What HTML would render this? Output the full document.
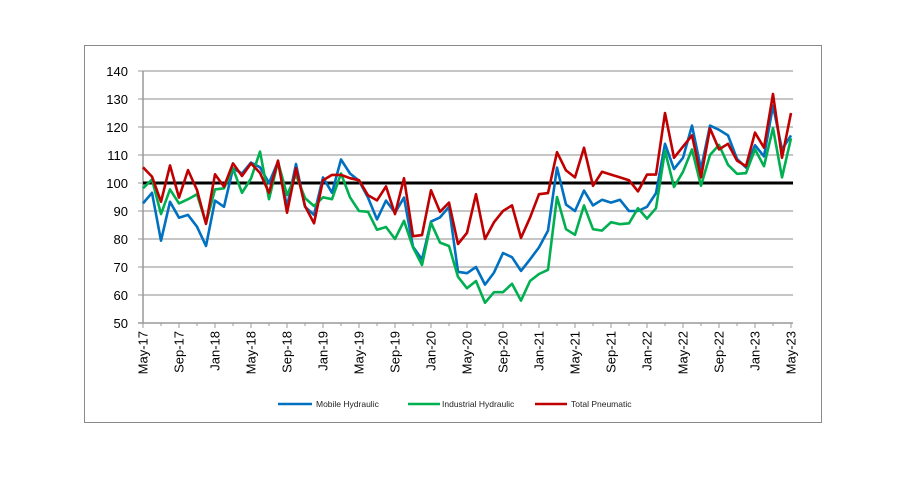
<!DOCTYPE html>
<html><head><meta charset="utf-8"><style>body{margin:0;background:#fff}svg{display:block}</style></head>
<body>
<svg id="s" width="904" height="482" xmlns="http://www.w3.org/2000/svg" font-family="Liberation Sans, sans-serif">
<rect x="84.5" y="45.5" width="737" height="377" fill="#fff" stroke="#8a8a8a" stroke-width="1"/>
<g id="grid"></g>
<g id="lbl"></g>
<line x1="143" y1="183" x2="793" y2="183" stroke="#000" stroke-width="3"/>
<g id="series"></g>
<g font-size="8.5" fill="#222">
<line x1="278" y1="404" x2="312" y2="404" stroke="#0070C0" stroke-width="2.5"/>
<text x="316" y="407">Mobile Hydraulic</text>
<line x1="408" y1="404" x2="440" y2="404" stroke="#00B050" stroke-width="2.5"/>
<text x="442" y="407">Industrial Hydraulic</text>
<line x1="535" y1="404" x2="567" y2="404" stroke="#C00000" stroke-width="2.5"/>
<text x="571" y="407">Total Pneumatic</text>
</g>
</svg>
<script>
const NS="http://www.w3.org/2000/svg";
function el(t,a,p,txt){const e=document.createElementNS(NS,t);for(const k in a)e.setAttribute(k,a[k]);if(txt!==undefined)e.textContent=txt;document.getElementById(p).appendChild(e);return e;}
const X=i=>143+9.0*i, Y=v=>323-(v-50)*2.8;
for(let v=50;v<=140;v+=10){
 if(v>50) el('line',{x1:143,y1:Y(v),x2:793,y2:Y(v),stroke:'#b4b4b4','stroke-width':1.5},'grid');
 el('line',{x1:138,y1:Y(v),x2:143,y2:Y(v),stroke:'#999','stroke-width':1},'grid');
 el('text',{x:128,y:Y(v)+5,'text-anchor':'end','font-size':13,fill:'#000'},'lbl',String(v));
}
el('line',{x1:143,y1:71,x2:143,y2:323,stroke:'#999','stroke-width':1.5},'grid');
el('line',{x1:138,y1:323,x2:793,y2:323,stroke:'#999','stroke-width':1.5},'grid');
const mons=['May','Sep','Jan'];
for(let i=0;i<=72;i+=2){el('line',{x1:X(i),y1:323,x2:X(i),y2:(i%4==0?328:326),stroke:'#999','stroke-width':1},'grid');}
for(let k=0;k<=18;k++){const i=k*4;const yr=17+Math.floor((k+1)/3);const lab=mons[k%3]+'-'+yr;
 el('text',{x:0,y:0,transform:`translate(${X(i)+4.5},331) rotate(-90)`,'text-anchor':'end','font-size':13,fill:'#000'},'lbl',lab);}
const blue=[92.7,96.5,79.4,93.3,87.6,88.6,84.4,77.5,93.7,91.5,105.2,103.4,107.3,105.6,100,107.6,91.5,106.8,91.5,88.6,102,96.5,108.4,103.4,100.8,94.8,87,93.7,89.4,94.8,77.2,72.7,86.2,87.7,91.5,68.3,67.8,70,63.7,68,75,73.5,68.6,72.7,77,83,105.5,92.3,90,97.3,92,94,93,94,90,90,91.5,96.4,114,105,109,120.5,105,120.5,119,117,108.6,105.5,113.5,109.5,127.6,112,117];
const green=[98.1,101.3,88.9,97.7,92.7,94.2,96,85.6,97.7,98.1,105.2,96.5,101.6,111.2,94.2,107.6,95.7,102.9,94.6,91.8,94.9,94.2,103.4,94.9,90,89.7,83.3,84.3,80,86.5,77,70.7,85.8,78.7,77.5,66.5,62.4,65,57.2,61,61,64,58,65,67.5,69,95,83.5,81.5,92,83.5,83,86,85.3,85.6,91,87.3,91,111.5,98.6,104,112,99,110,113.6,106.5,103.3,103.5,112,106,119.6,102,116];
const red=[105.6,102.3,93.3,106.3,94.8,104.6,97.5,85.4,103.1,98.7,107,102.5,107,103.6,96.5,108,89.4,105.3,91.8,85.6,101,102.9,102.9,101.7,101,95.6,93.8,98.8,88.9,101.7,81,81.4,97.4,89.7,93,78.2,82.2,96,80,86,90,92,80.4,87.6,96,96.4,111,104.5,102,112.6,99,104,103,102,101,97,103,103,125,109,113,117,102,119.5,112,114,108,106,118,112.6,131.8,109,125];
for(const [d,c] of [[blue,'#0070C0'],[green,'#00B050'],[red,'#C00000']]){
 el('polyline',{points:d.map((v,i)=>X(i).toFixed(1)+','+Y(v).toFixed(1)).join(' '),fill:'none',stroke:c,'stroke-width':2.6,'stroke-linejoin':'round'},'series');
}
</script>
</body></html>
